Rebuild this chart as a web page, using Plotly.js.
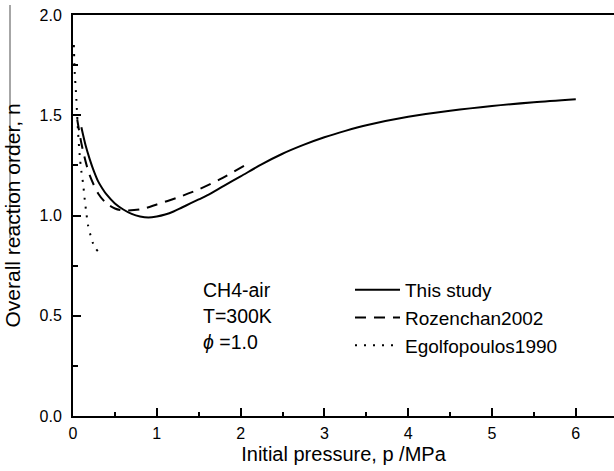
<!DOCTYPE html>
<html>
<head>
<meta charset="utf-8">
<script src="https://cdn.plot.ly/plotly-3.0.1.min.js"></script>
<style>html,body{margin:0;padding:0;background:#fff;}#chart{width:614px;height:471px;}</style>
</head>
<body>
<div id="chart"></div>
<script>
// Data
const studyP = [0.1, 0.15, 0.2, 0.25, 0.3, 0.35, 0.4, 0.5, 0.6, 0.7, 0.8, 0.9, 1.0, 1.1, 1.2, 1.3, 1.4, 1.5, 1.6, 1.8, 2.0, 2.25, 2.5, 2.75, 3.0, 3.25, 3.5, 4.0, 4.5, 5.0, 5.5, 6.0];
const studyN = [1.44, 1.35, 1.28, 1.22, 1.17, 1.135, 1.105, 1.06, 1.03, 1.008, 0.995, 0.99, 0.995, 1.005, 1.02, 1.04, 1.06, 1.08, 1.10, 1.148, 1.195, 1.255, 1.308, 1.352, 1.39, 1.422, 1.45, 1.492, 1.522, 1.546, 1.565, 1.58];

const rozP = [0.05, 0.1, 0.15, 0.2, 0.3, 0.4, 0.5, 0.6, 0.8, 1.0, 1.25, 1.5, 1.75, 2.05];
const rozN = [1.48, 1.36, 1.27, 1.20, 1.11, 1.06, 1.035, 1.025, 1.03, 1.055, 1.09, 1.13, 1.18, 1.25];

const egoP = [0.01, 0.02, 0.04, 0.06, 0.08, 0.1, 0.12, 0.14, 0.16, 0.18, 0.21, 0.24, 0.27, 0.3];
const egoN = [1.85, 1.72, 1.58, 1.42, 1.30, 1.22, 1.16, 1.08, 1.01, 0.95, 0.90, 0.86, 0.835, 0.82];

const seriesNames = ["This study", "Rozenchan2002", "Egolfopoulos1990"];
const xTicks = [0, 1, 2, 3, 4, 5, 6];
const yTicks = [0.0, 0.5, 1.0, 1.5, 2.0];
const noteLines = ["CH4-air", "T=300K", "<i>ϕ</i> =1.0"];

const FONT = "Arial, 'Liberation Sans', sans-serif";

const traces = [
  {x: studyP, y: studyN, name: seriesNames[0], mode: "lines", line: {color: "#000", width: 2, shape: "spline", smoothing: 0.8}},
  {x: rozP, y: rozN, name: seriesNames[1], mode: "lines", line: {color: "#000", width: 2, dash: "11px,8px", shape: "spline", smoothing: 0.8}},
  {x: egoP, y: egoN, name: seriesNames[2], mode: "lines", line: {color: "#000", width: 2, dash: "2px,7px", shape: "spline", smoothing: 0.8}}
];

const noteY = [290, 316, 342];
const annotations = noteLines.map((t, i) => ({
  text: t, xref: "paper", yref: "paper",
  x: (201 - 73) / 541, xanchor: "left",
  y: (416 - noteY[i]) / 401, yanchor: "middle",
  showarrow: false, font: {family: FONT, size: 19.5, color: "#000"}
}));

const layout = {
  width: 614, height: 471,
  margin: {l: 73, r: 0, t: 15, b: 55},
  paper_bgcolor: "#fff", plot_bgcolor: "#fff",
  font: {family: FONT, color: "#000"},
  showlegend: true,
  legend: {
    x: (350 - 73) / 541, xanchor: "left",
    y: (416 - 271) / 401, yanchor: "top",
    bgcolor: "rgba(0,0,0,0)", borderwidth: 0,
    font: {family: FONT, size: 19, color: "#000"},
    itemwidth: 45, tracegroupgap: 0
  },
  xaxis: {
    range: [0, 6.456], showgrid: false, zeroline: false,
    showline: true, linecolor: "#000", linewidth: 2, mirror: true,
    ticks: "inside", ticklen: 8, tickwidth: 2, tickcolor: "#000",
    tickvals: xTicks, ticktext: xTicks.map(String),
    tickfont: {family: FONT, size: 16, color: "#000"},
    ticklabelstandoff: 2,
    minor: {ticks: "inside", ticklen: 4, tickwidth: 2, tickcolor: "#000", dtick: 0.5, showgrid: false},
    title: {text: "Initial pressure, p /MPa", font: {family: FONT, size: 20, color: "#000"}, standoff: 6}
  },
  yaxis: {
    range: [0, 2.0], showgrid: false, zeroline: false,
    showline: true, linecolor: "#000", linewidth: 2, mirror: false,
    ticks: "inside", ticklen: 8, tickwidth: 2, tickcolor: "#000",
    tickvals: yTicks, ticktext: yTicks.map(v => v.toFixed(1)),
    ticklabelstandoff: 6,
    tickfont: {family: FONT, size: 16, color: "#000"},
    minor: {ticks: "inside", ticklen: 5, tickwidth: 2, tickcolor: "#000", dtick: 0.25, showgrid: false},
    title: {text: "Overall reaction order, n", font: {family: FONT, size: 21, color: "#000"}, standoff: 13}
  },
  annotations: annotations,
  shapes: [{
    type: "line", xref: "paper", yref: "paper",
    x0: (10 - 73) / 541, x1: (10 - 73) / 541,
    y0: (416 - 5) / 401, y1: (416 - 238) / 401,
    line: {color: "#888", width: 1.5}
  }]
};

Plotly.newPlot("chart", traces, layout, {displayModeBar: false, staticPlot: true});
</script>
</body>
</html>
